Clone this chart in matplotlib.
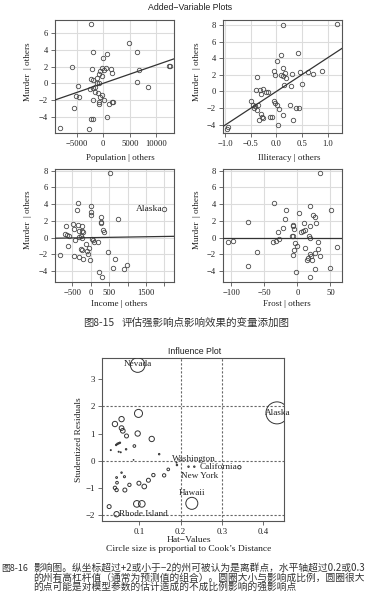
import matplotlib
matplotlib.use("Agg")
import matplotlib.pyplot as plt

W, H, DPI = 377, 605, 100

# ---------------- Data: Added-variable plots ----------------
pop_x = [-2390, 4840, 6290, -1890, 755, 0, -5910, -2140, -315, 503, 1384, 126, -629, 1635,
         -755, 6790, 12330, 12580, -315, -2390, -1890, -755, -1260, -4780, 6420, -2520,
         -2010, -1510, -943, 8370, -315, -5160, -4650, -629, -1890, 126, -755, -880, 1006,
         1761, 1572, -5470, 755, -2265, -1890, -8180, -2770, -1260, -1570]
pop_y = [7.08, 4.8, 3.8, 3.72, 3.48, 3.0, 1.96, 1.72, 1.88, 1.8, 1.72, 1.6, 1.48, 1.2,
         1.16, 1.56, 2.12, 2.12, 0.92, 0.52, 0.36, 0.0, 0.0, -0.36, 0.2, -0.68,
         -0.6, -1.08, -1.16, -0.48, -1.4, -1.48, -1.6, -1.64, -2.0, -2.0, -2.28, -2.44, -2.52,
         -2.28, -2.2, -2.92, -4.04, -4.24, -4.24, -5.32, -5.48, 0.6, -0.4]
pop_slope = 2.2e-4

ill_x = [0.136, 1.19, 0.097, 0.42, 0.013, -0.37, -0.045, -0.03, 0.13, 0.097, 0.13, 0.175,
         0.195, 0.305, 0.455, 0.617, 0.71, 0.89, 0.149, 0.28, 0.5, -0.4, -0.325, -0.26,
         -0.21, -0.16, -0.29, -0.5, -0.455, -0.41, -0.36, -0.435, -0.37, -0.045, -0.02,
         0.02, 0.045, 0.26, 0.39, 0.435, -0.305, -0.28, -0.26, -0.13, -0.084, 0.13,
         -0.344, 0.03, 0.32, -0.94, -0.955]
ill_y = [8.0, 8.07, 4.38, 4.58, 3.65, 1.69, 2.45, 1.97, 2.85, 1.97, 1.89, 2.17,
         1.65, 2.09, 2.37, 2.37, 2.09, 2.45, 0.76, 0.64, 0.88, 0.16, 0.16, 0.28,
         -0.12, -0.04, -0.28, -1.12, -1.65, -1.73, -1.57, -1.97, -2.2, -1.16, -1.4,
         -1.57, -2.13, -1.57, -2.05, -1.97, -2.73, -3.05, -3.17, -3.05, -3.05, -2.85,
         -3.49, -3.98, -3.45, -4.26, -4.54]
ill_slope = 4.05

inc_x = [509, 1990, -345, -382, 0, 18, 0, 273, 282, 282, 727, -673, -491, -345, -236,
         -455, -309, -245, -200, 327, 364, -700, -655, -582, -309, -436, -236, -273, 27,
         55, 73, 182, -127, -618, -264, -245, -55, 455, -91, -64, -18, -836, -455, -327,
         -200, 645, 982, 909, 600, 227, 300]
inc_y = [7.73, 3.47, 4.1, 3.35, 3.75, 3.03, 2.75, 2.47, 1.91, 1.75, 2.23, 1.35, 1.63,
         1.47, 1.43, 1.04, 0.8, 0.8, 0.72, 0.96, 0.68, 0.48, 0.28, 0.16, 0.08, -0.32,
         -0.08, 0.16, -0.16, -0.32, -0.48, -0.56, -0.72, -1.04, -1.35, -1.51, -1.24,
         -1.67, -1.63, -1.99, -2.63, -2.03, -2.23, -2.31, -2.55, -2.55, -3.31, -3.75,
         -3.67, -4.06, -4.74]
inc_slope = 7e-5

fro_x = [33.8, -35.4, -16.7, 18.7, 51.5, 2.0, 23.7, 27.3, -19.2, -74.7, 10.1, 19.2, 28.8,
         -6.6, -6.6, -5.1, -21.7, 6.1, 8.6, 12.1, -29.3, -8.1, -6.1, 17.2, 18.7, -28.3,
         -31.8, -36.9, -105, -97.5, -4.0, 0, 31.3, 11.1, 31.3, 60.6, -5.1, -6.6, 26.3,
         19.2, 20.2, 16.2, 22.7, 15.1, 33.8, -60.6, -74.7, 26.3, 49, -1.5, 18.7]
fro_y = [7.73, 4.14, 3.35, 3.75, 3.35, 2.95, 2.75, 2.47, 2.23, 1.87, 1.75, 1.43, 1.75,
         1.51, 1.35, 1.04, 1.12, 0.64, 0.8, 0.96, 0.72, 0.24, 0.16, 0.16, 0.0, -0.16,
         -0.36, -0.56, -0.56, -0.44, -0.64, -0.96, -0.48, -1.2, -1.35, -1.16, -1.51,
         -2.03, -1.83, -1.91, -2.15, -2.47, -2.63, -2.63, -2.23, -1.71, -3.43, -3.75,
         -3.67, -4.1, -4.74]
fro_slope = 0.0

# ---------------- Data: Influence plot ----------------
hat = [0.096, 0.098, 0.041, 0.057, 0.057, 0.060, 0.069, 0.096, 0.130, 0.088, 0.047, 0.050,
       0.053, 0.044, 0.031, 0.050, 0.055, 0.068, 0.148, 0.086, 0.057, 0.045, 0.064, 0.046,
       0.041, 0.045, 0.065, 0.076, 0.099, 0.112, 0.122, 0.134, 0.160, 0.170, 0.191, 0.027,
       0.094, 0.106, 0.045, 0.227, 0.433, 0.342, 0.219, 0.233, 0.190]
stud = [3.52, 1.74, 1.35, 1.53, 1.20, 1.10, 0.91, 1.00, 0.80, 0.54, 0.62, 0.64,
        0.66, 0.58, 0.39, 0.33, 0.31, 0.42, 0.24, 0.03, -0.44, -0.62, -0.59, -0.81,
        -1.00, -1.08, -1.08, -0.89, -0.83, -0.95, -0.72, -0.53, -0.54, -0.32, -0.16, -1.69,
        -1.59, -1.59, -1.97, -1.57, 1.76, -0.24, -0.22, -0.22, -0.07]
cook = [0.198, 0.060, 0.0265, 0.0265, 0.0203, 0.0203, 0.0149, 0.0265, 0.0265, 0.0066, 0.002, 0.002,
        0.002, 0.002, 0.001, 0.001, 0.001, 0.002, 0.002, 0.0005, 0.002, 0.003, 0.004, 0.0066,
        0.0104, 0.0104, 0.0149, 0.0104, 0.0149, 0.0203, 0.0149, 0.0104, 0.0104, 0.0066, 0.002, 0.0149,
        0.041, 0.041, 0.0265, 0.134, 0.45, 0.0104, 0.002, 0.002, 0.001]
state_names = ["Nevada", "Alaska", "Washington", "California", "New York", "Hawaii", "Rhode Island"]
name_x = [0.097, 0.436, 0.231, 0.291, 0.247, 0.227, 0.109]
name_y = [3.55, 1.76, 0.05, -0.24, -0.55, -1.18, -1.96]

SERIF = ['Liberation Serif', 'DejaVu Serif']
SANS = ['Liberation Sans', 'DejaVu Sans']
CJK = ['Noto Sans CJK SC', 'DejaVu Sans']
plt.rcParams['font.family'] = SERIF

fig = plt.figure(figsize=(W / DPI, H / DPI), dpi=DPI)
fig.patch.set_facecolor('white')


def rect(x0, y0, x1, y1):
    return [x0 / W, 1 - y1 / H, (x1 - x0) / W, (y1 - y0) / H]


def ftext(x, y, s, **kw):
    fig.text(x / W, 1 - y / H, s, **kw)


def av_panel(r, x, y, slope, xlim, ylim, xticks, xlabels, yticks):
    ax = fig.add_axes(r)
    ax.set_xlim(xlim)
    ax.set_ylim(ylim)
    ax.set_xticks(xticks)
    ax.set_xticklabels(xlabels)
    ax.set_yticks(yticks)
    ax.grid(True, color='#dcdcdc', lw=0.8)
    ax.set_axisbelow(True)
    ax.plot(x, y, 'o', mfc='none', mec='#4a4a4a', ms=3.2, mew=0.6, zorder=3)
    ax.axline((0, 0), slope=slope, color='#333333', lw=0.9, zorder=4)
    for s in ax.spines.values():
        s.set_color('#555555')
        s.set_linewidth(0.8)
    ax.tick_params(labelsize=6.2, length=3, width=0.6, color='#555555', pad=2,
                   labelcolor='#222222')
    return ax


ftext(190, 7, "Added\u2212Variable Plots", fontsize=6.3, family=SANS, ha='center', va='center',
      color='#222222')

av_panel(rect(55, 20, 173.5, 133), pop_x, pop_y, pop_slope, (-9114, 13247), (-5.97, 7.6),
         [-5000, 0, 5000, 10000], ['\u22125000', '0', '5000', '10000'], [-4, -2, 0, 2, 4, 6])
av_panel(rect(223, 20, 342, 133), ill_x, ill_y, ill_slope, (-1.04, 1.28), (-5.0, 8.6),
         [-1.0, -0.5, 0.0, 0.5, 1.0], ['\u22121.0', '\u22120.5', '0.0', '0.5', '1.0'],
         [-4, -2, 0, 2, 4, 6, 8])
ax3 = av_panel(rect(55, 169, 173.5, 282), inc_x, inc_y, inc_slope, (-973, 2245), (-5.3, 8.2),
               [-500, 0, 500, 1000, 1500, 2000], ['\u2212500', '0', '500', '', '1500', ''],
               [-4, -2, 0, 2, 4, 6, 8])
ax3.text(1940, 3.47, "Alaska", fontsize=6.8, ha='right', va='center', color='#222222')
av_panel(rect(223, 169, 342, 282), fro_x, fro_y, fro_slope, (-112.6, 67.7), (-5.3, 8.2),
         [-100, -50, 0, 50], ['\u2212100', '\u221250', '0', '50'], [-4, -2, 0, 2, 4, 6, 8])

lab_kw = dict(fontsize=6.6, ha='center', va='center', color='#222222')
ftext(120, 158, "Population | others", **lab_kw)
ftext(289, 158, "Illiteracy | others", **lab_kw)
ftext(119, 304, "Income | others", **lab_kw)
ftext(287, 304, "Frost | others", **lab_kw)
for (xx, yy) in [(28, 72), (197, 72), (28, 220), (197, 220)]:
    ftext(xx, yy, "Murder  | others", rotation=90, **lab_kw)

ftext(83, 323, "图8-15", fontsize=7.4, family=CJK, ha='left', va='center', color='#333333')
ftext(122, 323, "评估强影响点影响效果的变量添加图", fontsize=7.6, family=CJK, ha='left',
      va='center', color='#333333')

# ---------------- Influence plot ----------------
ax = fig.add_axes(rect(102, 358, 284, 521))
ax.set_xlim(0.0097, 0.45)
ax.set_ylim(-2.22, 3.78)
for v in [0.2, 0.3]:
    ax.axvline(v, color='#666666', lw=0.8, ls=(0, (2, 1.6)), zorder=1)
for v in [-2, 0, 2]:
    ax.axhline(v, color='#666666', lw=0.8, ls=(0, (2, 1.6)), zorder=1)
sizes = [557.6 * c for c in cook]
ax.scatter(hat, stud, s=sizes, facecolors='none', edgecolors='#333333', linewidths=0.7, zorder=3)
for nm, xx, yy in zip(state_names, name_x, name_y):
    ax.text(xx, yy, nm, fontsize=6.6, ha='center', va='center', color='#222222', zorder=4)
ax.set_xticks([0.1, 0.2, 0.3, 0.4])
ax.set_xticklabels(['0.1', '0.2', '0.3', '0.4'])
ax.set_yticks([-2, -1, 0, 1, 2, 3])
ax.set_yticklabels(['\u22122', '\u22121', '0', '1', '2', '3'])
for s in ax.spines.values():
    s.set_color('#555555')
    s.set_linewidth(0.8)
ax.tick_params(labelsize=6.4, length=3, width=0.6, color='#555555', pad=2, labelcolor='#222222')

ftext(195, 351, "Influence Plot", fontsize=6.3, family=SANS, ha='center', va='center',
      color='#222222')
ftext(79, 440, "Studentized Residuals", rotation=90, fontsize=6.8, ha='center', va='center',
      color='#222222')
ftext(189, 540, "Hat\u2212Values", fontsize=6.8, ha='center', va='center', color='#222222')
ftext(189, 549, "Circle size is proportial to Cook\u2019s Distance", fontsize=6.8, ha='center',
      va='center', color='#222222')

cap_kw = dict(fontsize=7.0, family=CJK, ha='left', va='center', color='#333333')
ftext(1, 568, "图8-16", fontsize=6.4, family=CJK, ha='left', va='center', color='#333333')
ftext(33, 568, "影响图。纵坐标超过+2或小于−2的州可被认为是离群点，水平轴超过0.2或0.3", **cap_kw)
ftext(33, 577.5, "的州有高杠杆值（通常为预测值的组合）。圆圈大小与影响成比例，圆圈很大", **cap_kw)
ftext(33, 587, "的点可能是对模型参数的估计造成的不成比例影响的强影响点", **cap_kw)

fig.savefig("out.png", dpi=DPI, facecolor='white')
